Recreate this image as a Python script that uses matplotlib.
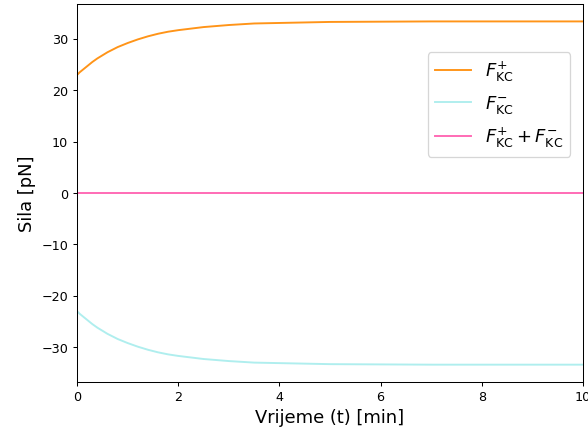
import numpy as np
import matplotlib
matplotlib.use("Agg")
import matplotlib.pyplot as plt

# vrijeme [min] i sila kinetohore [pN]
t_min = [0.0, 0.05, 0.1, 0.15, 0.2, 0.3, 0.4, 0.5, 0.6, 0.7, 0.8, 0.9, 1.0,
         1.2, 1.4, 1.6, 1.8, 2.0, 2.25, 2.5, 2.75, 3.0, 3.5, 4.0, 4.5, 5.0,
         6.0, 7.0, 8.0, 9.0, 10.0]
F_kc_plus = [23.0, 23.5, 23.9, 24.3, 24.7, 25.5, 26.2, 26.8, 27.4, 27.9,
             28.4, 28.8, 29.2, 29.9, 30.5, 31.0, 31.4, 31.7, 32.0, 32.3,
             32.5, 32.7, 33.0, 33.1, 33.2, 33.3, 33.35, 33.4, 33.4, 33.4,
             33.4]
F_kc_minus = [-v for v in F_kc_plus]
F_kc_sum = [p + m for p, m in zip(F_kc_plus, F_kc_minus)]

fig, ax = plt.subplots(figsize=(6.4, 4.8), dpi=92)
fig.subplots_adjust(left=0.131, right=0.99, top=0.989, bottom=0.134)

ax.plot(t_min, F_kc_plus, color="#ff9418", label=r"$F_{\mathrm{KC}}^{+}$")
ax.plot(t_min, F_kc_minus, color="paleturquoise", label=r"$F_{\mathrm{KC}}^{-}$")
ax.plot(t_min, F_kc_sum, color="hotpink",
        label=r"$F_{\mathrm{KC}}^{+} + F_{\mathrm{KC}}^{-}$")

ax.set_xlim(0, 10)
ax.set_xlabel("Vrijeme (t) [min]", fontsize=14)
ax.set_ylabel("Sila [pN]", fontsize=14)
ax.legend(fontsize=14, loc="upper right", bbox_to_anchor=(0.993, 0.897),
          labelspacing=0.55)

fig.savefig("out.png", dpi=92)
